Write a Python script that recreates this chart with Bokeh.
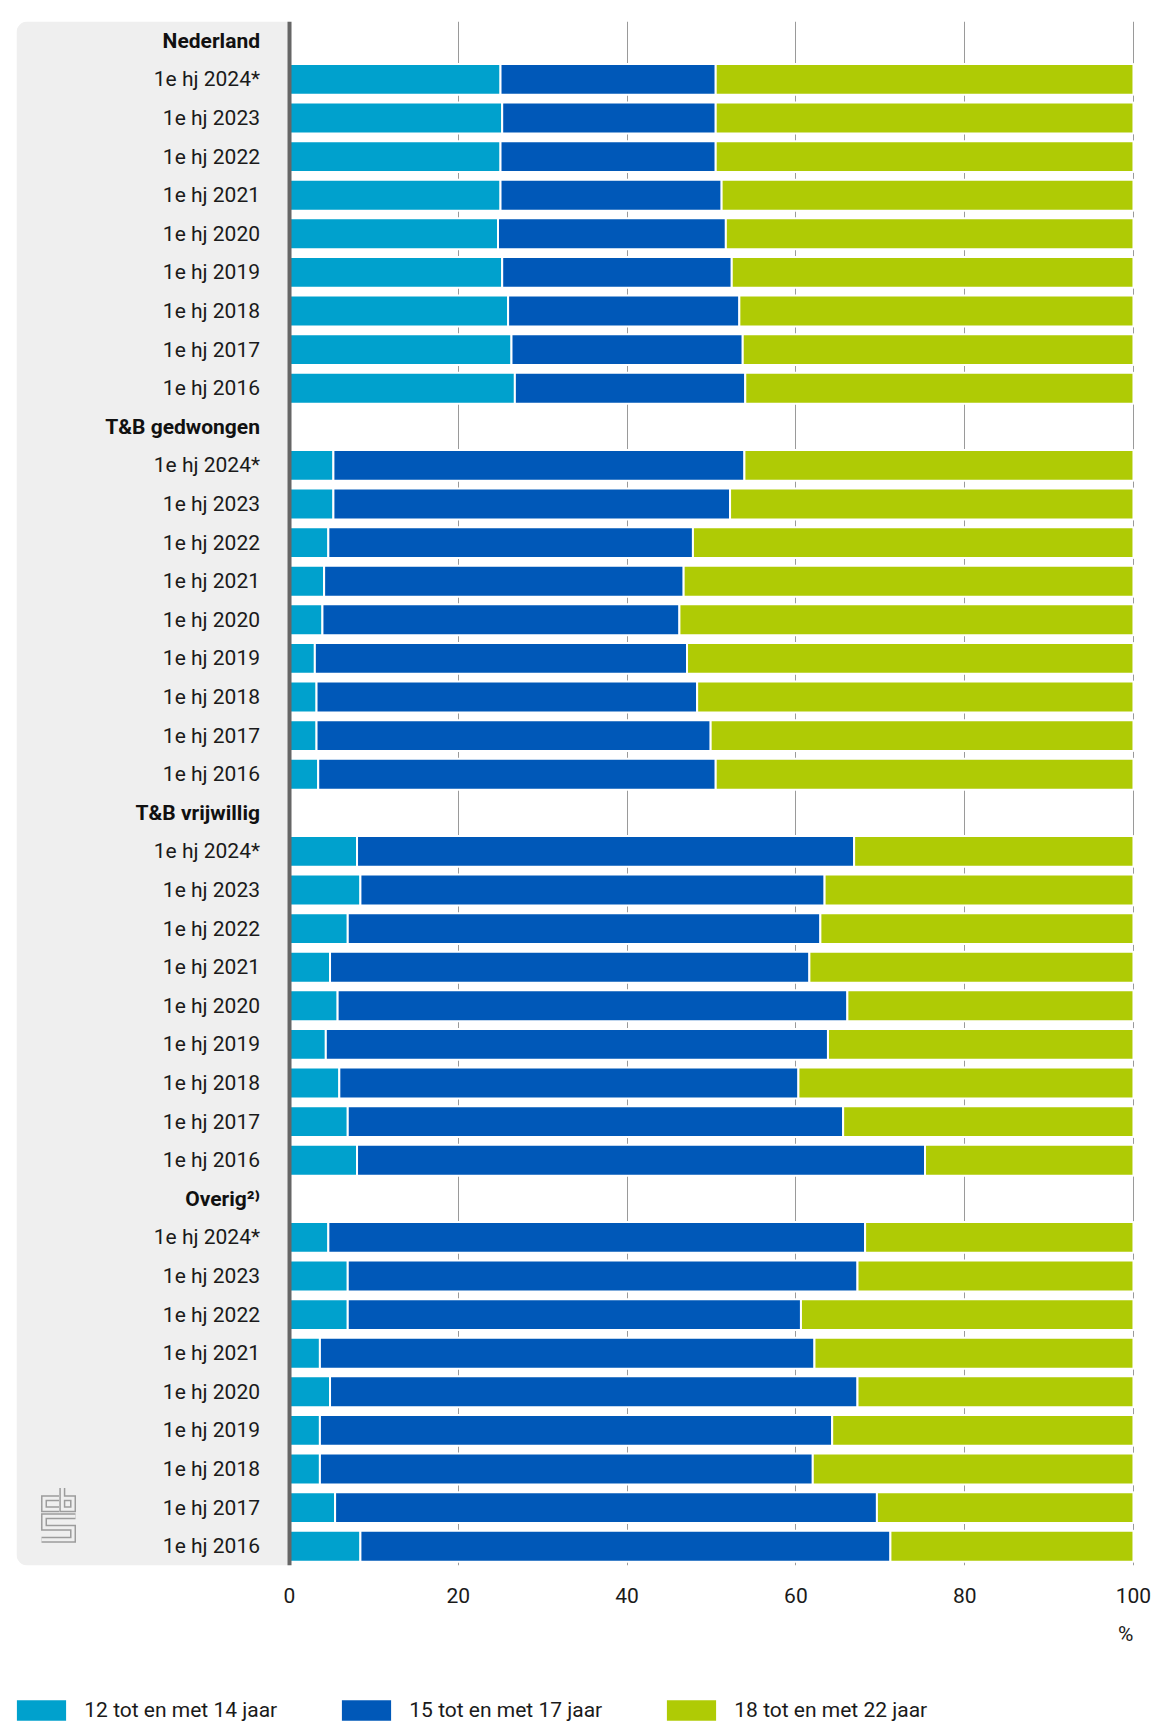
from bokeh.plotting import figure
from bokeh.layouts import column
from bokeh.models import (ColumnDataSource, Range1d, FixedTicker, BoxAnnotation, Span, Label,
                          Legend, LegendItem)
from bokeh.core.properties import value
from bokeh.embed import file_html
from bokeh.resources import INLINE

# ---------------- data ----------------
groups = ["Nederland", "T&B gedwongen", "T&B vrijwillig", "Overig²⁾"]
periods = ["1e hj 2024*", "1e hj 2023", "1e hj 2022", "1e hj 2021", "1e hj 2020",
           "1e hj 2019", "1e hj 2018", "1e hj 2017", "1e hj 2016"]
series_labels = ["12 tot en met 14 jaar", "15 tot en met 17 jaar", "18 tot en met 22 jaar"]
colors = ["#00a1cd", "#0058b8", "#afcb05"]

nl_12_14 = [25.0, 25.2, 25.0, 25.0, 24.7, 25.2, 25.9, 26.3, 26.7]
nl_15_17 = [25.5, 25.3, 25.5, 26.2, 27.0, 27.2, 27.4, 27.4, 27.3]
nl_18_22 = [49.5, 49.5, 49.5, 48.8, 48.3, 47.6, 46.7, 46.3, 46.0]

tbg_12_14 = [5.2, 5.2, 4.6, 4.1, 3.9, 3.0, 3.2, 3.2, 3.4]
tbg_15_17 = [48.7, 47.0, 43.2, 42.6, 42.3, 44.1, 45.1, 46.7, 47.1]
tbg_18_22 = [46.1, 47.8, 52.2, 53.3, 53.8, 52.9, 51.7, 50.1, 49.5]

tbv_12_14 = [8.0, 8.4, 6.9, 4.8, 5.7, 4.3, 5.9, 6.9, 8.0]
tbv_15_17 = [58.9, 55.0, 56.0, 56.8, 60.4, 59.5, 54.4, 58.7, 67.3]
tbv_18_22 = [33.1, 36.6, 37.1, 38.4, 33.9, 36.2, 39.7, 34.4, 24.7]

ov_12_14 = [4.6, 6.9, 6.9, 3.6, 4.8, 3.6, 3.6, 5.4, 8.4]
ov_15_17 = [63.6, 60.4, 53.7, 58.6, 62.5, 60.7, 58.4, 64.2, 62.8]
ov_18_22 = [31.8, 32.7, 39.4, 37.8, 32.7, 35.7, 38.0, 30.4, 28.8]

x_ticks = [0, 20, 40, 60, 80, 100]
unit_label = "%"

group_series = [
    (nl_12_14, nl_15_17, nl_18_22),
    (tbg_12_14, tbg_15_17, tbg_18_22),
    (tbv_12_14, tbv_15_17, tbv_18_22),
    (ov_12_14, ov_15_17, ov_18_22),
]

FONT = "Roboto"
TXT = "#1a1a1a"

# ---------------- build rows ----------------
rows_per_group = len(periods) + 1
n_rows = rows_per_group * len(groups)

bar_y, s1, s2, s3 = [], [], [], []
lab_y, lab_t, head_y, head_t = [], [], [], []
for g, (a, b, c) in enumerate(group_series):
    head_y.append(g * rows_per_group + 0.5)
    head_t.append(groups[g])
    for j, per in enumerate(periods):
        yy = g * rows_per_group + 1 + j + 0.5
        bar_y.append(yy)
        s1.append(a[j]); s2.append(b[j]); s3.append(c[j])
        lab_y.append(yy)
        lab_t.append(per)

src = ColumnDataSource(dict(y=bar_y, s1=s1, s2=s2, s3=s3))

# ---------------- main chart ----------------
W = 1153
H1 = 1616
FL, FR = 16, 1135          # frame left / right in page pixels
X0 = -32.35
p = figure(width=W, height=H1, output_backend="svg", toolbar_location=None,
           x_range=Range1d(X0, 100.24), y_range=Range1d(n_rows, 0),
           y_axis_type=None, tools="")
p.min_border_left = FL
p.min_border_right = W - FR
p.min_border_top = 21
p.min_border_bottom = H1 - 1565
p.outline_line_color = None
p.background_fill_color = "white"
p.border_fill_color = "white"

# grey label panel
panel = BoxAnnotation(left=X0, right=0, fill_color="#efefef", fill_alpha=1.0,
                      line_alpha=0, level="underlay", border_radius=(11, 0, 0, 11))
p.add_layout(panel)

# grid
p.ygrid.visible = False
p.xgrid.ticker = FixedTicker(ticks=[t for t in x_ticks if t > 0])
p.xgrid.grid_line_color = "#9a9a9a"
p.xgrid.grid_line_width = 1

# bars
p.hbar_stack(["s1", "s2", "s3"], y="y", height=0.80, source=src,
             fill_color=colors, line_color="white", line_width=2)

# left axis line
p.add_layout(Span(location=0, dimension="height", line_color="#666666", line_width=4))

# category labels
lab_src = ColumnDataSource(dict(x=[-3.5] * len(lab_y), y=lab_y, t=lab_t))
p.text(x="x", y="y", text="t", source=lab_src, text_align="right", text_baseline="middle",
       text_font=value(FONT), text_font_size="21px", text_color=TXT)
head_src = ColumnDataSource(dict(x=[-3.5] * len(head_y), y=head_y, t=head_t))
p.text(x="x", y="y", text="t", source=head_src, text_align="right", text_baseline="middle",
       text_font=value(FONT), text_font_size="21px", text_font_style="bold",
       text_color="#111111")

# CBS logo (decoration), page pixel units converted to data units
def to_data(pts):
    return ([(x - 289) / 8.44 for x, _ in pts], [(y - 21) / 38.6 for _, y in pts])

logo_paths = [
    [(58.5, 1497.8), (43.5, 1497.8), (43.5, 1508.8), (58.5, 1508.8)],
    [(61.8, 1487.5), (61.8, 1508.8), (72.5, 1508.8), (72.5, 1497.8), (61.8, 1497.8)],
    [(75.0, 1515.8), (43.5, 1515.8), (43.5, 1527.3), (72.5, 1527.3), (72.5, 1539.2), (41.0, 1539.2)],
]
lx, ly = [], []
for path in logo_paths:
    xs_, ys_ = to_data(path)
    lx.append(xs_); ly.append(ys_)
p.multi_line(lx, ly, line_color="#9c9c9c", line_width=6, line_join="miter", line_cap="butt")
p.multi_line(lx, ly, line_color="#efefef", line_width=3, line_join="miter", line_cap="butt")

# x axis
xa = p.xaxis[0]
xa.ticker = FixedTicker(ticks=x_ticks)
xa.axis_line_color = None
xa.major_tick_line_color = None
xa.minor_tick_line_color = None
xa.major_tick_out = 0
xa.major_tick_in = 0
xa.major_label_standoff = 22
xa.major_label_text_font = FONT
xa.major_label_text_font_size = "21px"
xa.major_label_text_color = TXT

# ---------------- legend strip ----------------
# (the column layout aligns this plot's frame with the chart's frame: FL..FR)
H2 = 1724 - H1
p2 = figure(width=W, height=H2, output_backend="svg", toolbar_location=None,
            x_range=Range1d(FL, FR), y_range=Range1d(0, H2),
            x_axis_type=None, y_axis_type=None, tools="")
p2.min_border_left = FL
p2.min_border_right = W - FR
p2.min_border_top = 0
p2.min_border_bottom = 0
p2.outline_line_color = None
p2.background_fill_color = "white"
p2.border_fill_color = "white"

# unit label, right-aligned under the 100 tick
p2.add_layout(Label(x=1133, y=H2 - (1633.5 - H1), text=unit_label, text_align="right",
                    text_baseline="middle", text_font=FONT, text_font_size="21px",
                    text_color=TXT))

items = []
for lab, col in zip(series_labels, colors):
    # legend proxy: one off-screen point so the legend has a glyph to draw
    r = p2.hbar(y=[-1000], right=[FL + 1], left=[FL], height=1,
                fill_color=col, line_color="white", line_width=2)
    items.append(LegendItem(label=lab, renderers=[r]))
leg = Legend(items=items, orientation="horizontal", location=(9.3 - FL, 0),
             glyph_width=64, glyph_height=28, label_standoff=11, spacing=0,
             label_width=250, padding=0, margin=0,
             background_fill_alpha=0, border_line_alpha=0,
             label_text_font=FONT, label_text_font_size="21px",
             label_text_color=TXT, label_text_baseline="middle")
p2.add_layout(leg)

layout = column(p, p2, spacing=0)
open("out.html", "w").write(file_html(layout, INLINE))
